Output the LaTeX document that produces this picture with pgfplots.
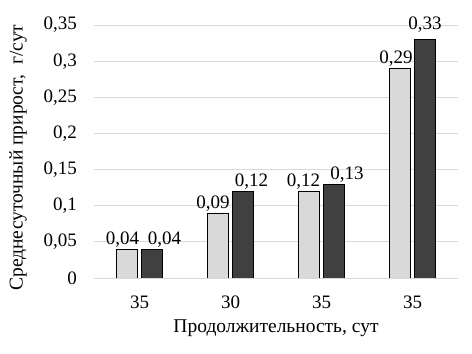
\documentclass[border=0pt]{standalone}
\usepackage{pgfplots}
\usepackage{pgfplotstable}
\pgfplotsset{compat=1.18}
\usepackage{fontspec}
\setmainfont{Liberation Serif}
\definecolor{lightbar}{HTML}{D9D9D9}
\definecolor{darkbar}{HTML}{404040}
\definecolor{gridc}{HTML}{D9D9D9}
\pgfplotstableread{
x y lbl dx dy
0 0.04 0,04 -4.5 0
1 0.09 0,09 -5 0
2 0.12 0,12 -5.5 0
3 0.29 0,29 -4 0
}\seriesA
\pgfplotstableread{
x y lbl dx dy
0 0.04 0,04 12.5 0
1 0.12 0,12 8.5 0
2 0.13 0,13 13 0
3 0.33 0,33 0 5.5
}\seriesB
\begin{document}
\begin{tikzpicture}
\useasboundingbox (0,0) rectangle (472bp,354bp);
\begin{axis}[
  at={(94bp,76bp)}, anchor=south west,
  scale only axis, width=364bp, height=253bp,
  xmin=-0.5, xmax=3.5, ymin=0, ymax=0.35,
  xtick={0,1,2,3}, xticklabels={35,30,35,35},
  ytick={0,0.05,0.1,0.15,0.2,0.25,0.3,0.35},
  yticklabels={0,{0,05},{0,1},{0,15},{0,2},{0,25},{0,3},{0,35}},
  axis line style={draw=none},
  tick style={draw=none},
  ymajorgrids, major grid style={gridc, line width=0.8bp},
  yticklabel style={font=\fontsize{19bp}{21bp}\selectfont, anchor=east, inner sep=0pt, xshift=-17bp},
  xticklabel style={font=\fontsize{19bp}{21bp}\selectfont, anchor=center, yshift=-20bp},
  xlabel={Продолжительность, сут},
  ylabel={Среднесуточный прирост,\ \ г/сут},
  label style={font=\fontsize{19.5bp}{22bp}\selectfont},
  xlabel style={at={(rel axis cs:0.5,0)}, anchor=center, yshift=-50bp},
  ylabel style={at={(rel axis cs:-0.2088,0.476)}, anchor=center},
  ybar, bar width=21bp,
  point meta=explicit symbolic,
  nodes near coords,
  visualization depends on={\thisrow{dx} \as \mydx},
  visualization depends on={\thisrow{dy} \as \mydy},
  every node near coord/.append style={font=\fontsize{19bp}{21bp}\selectfont, xshift=\mydx bp, yshift=\mydy bp-2bp},
]
\addplot[fill=lightbar, draw=black, line width=0.8bp, bar shift=-12.5bp] table[x=x, y=y, meta=lbl] {\seriesA};
\addplot[fill=darkbar, draw=black, line width=0.8bp, bar shift=12.5bp] table[x=x, y=y, meta=lbl] {\seriesB};
\end{axis}
\end{tikzpicture}
\end{document}
